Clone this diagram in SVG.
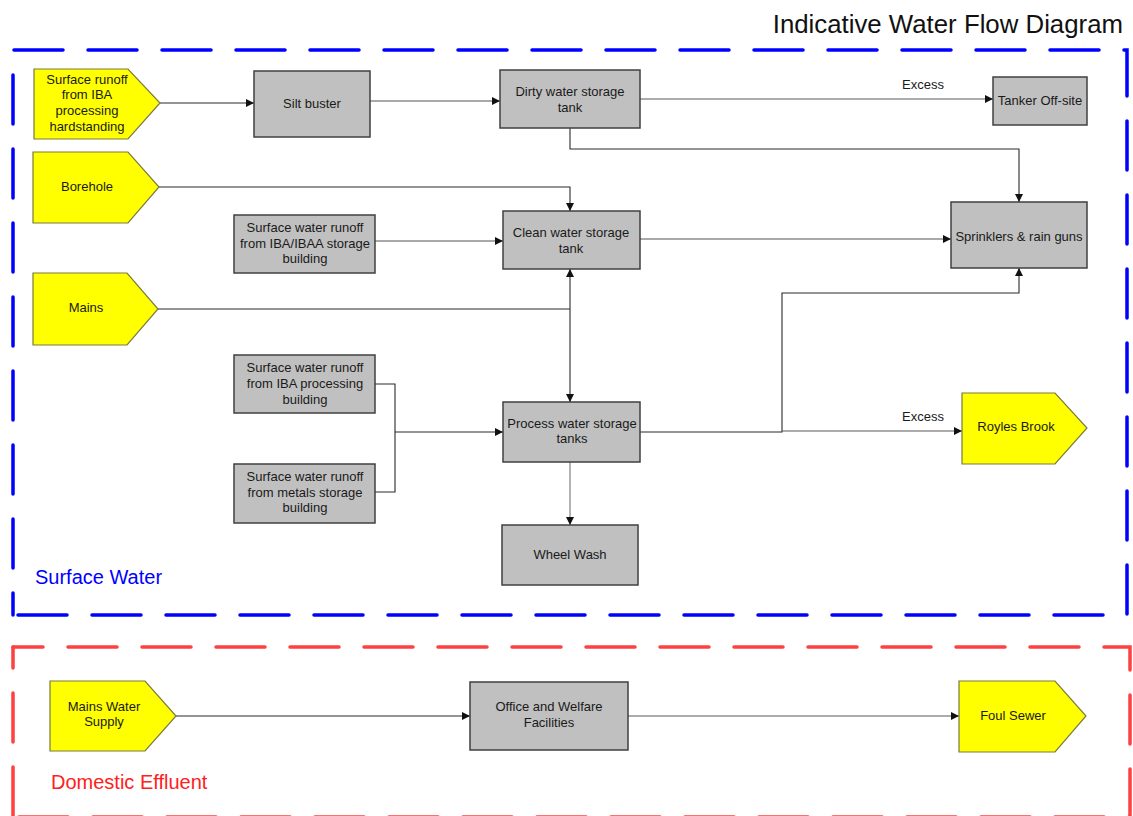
<svg xmlns="http://www.w3.org/2000/svg" width="1133" height="816" viewBox="0 0 1133 816">
<defs>
<marker id="arr" viewBox="0 0 10 10" refX="10" refY="5" markerWidth="9" markerHeight="8" markerUnits="userSpaceOnUse" orient="auto"><path d="M0,0 L10,5 L0,10 Z" fill="#111"/></marker>
<style>
text{font-family:"Liberation Sans",Arial,sans-serif;font-size:13px;fill:#1a1a1a;text-anchor:middle}
.box{fill:#c0c0c0;stroke:#404040;stroke-width:1.5}
.src{fill:#ffff00;stroke:#7a7a40;stroke-width:1.2}
.c{fill:none;stroke:#2a2a2a;stroke-width:1.1}
.g{fill:none;stroke:#8c8c8c;stroke-width:1.3}
.m{fill:none;stroke:#5a5a5a;stroke-width:1.2}
.blue{fill:none;stroke:#0000ff;stroke-width:3.5;stroke-dasharray:49 25;stroke-linecap:round}
.red{fill:none;stroke:#ff4040;stroke-width:3.5;stroke-dasharray:49 25;stroke-linecap:round}
</style>
</defs>
<rect width="1133" height="816" fill="#fff"/>
<text x="1123" y="33" style="font-size:25.8px;text-anchor:end;fill:#111">Indicative Water Flow Diagram</text>

<g id="frame-surface">
<path class="blue" d="M13,50 H1127 V615 H13" stroke-dashoffset="-1"/>
<path class="blue" d="M13,50 V615" stroke-dashoffset="49"/>
<text x="35" y="584" style="font-size:20px;text-anchor:start;fill:#0000ff">Surface Water</text>
</g>
<g id="frame-domestic">
<path class="red" d="M13,647 H1130 V817 H13" stroke-dashoffset="19"/>
<path class="red" d="M13,647 V817" stroke-dashoffset="28"/>
<text x="51" y="789" style="font-size:20px;text-anchor:start;fill:#ff2020">Domestic Effluent</text>
</g>

<g id="connectors">
<path class="c" d="M160,103 H254" marker-end="url(#arr)"/>
<path class="g" d="M370,101 H500" marker-end="url(#arr)"/>
<path class="m" d="M640,99 H993" marker-end="url(#arr)"/>
<text x="923" y="89">Excess</text>
<path class="c" d="M570,128 V149 H1019 V202" marker-end="url(#arr)"/>
<path class="c" d="M159,187 H570 V211" marker-end="url(#arr)"/>
<path class="g" d="M375,241 H503" marker-end="url(#arr)"/>
<path class="g" d="M640,239 H951" marker-end="url(#arr)"/>
<path class="c" d="M158,309 H570"/>
<path class="c" d="M570,309 V269" marker-end="url(#arr)"/>
<path class="c" d="M570,309 V402" marker-end="url(#arr)"/>
<path class="c" d="M375,384 H395 V492 H375"/>
<path class="c" d="M395,432 H503" marker-end="url(#arr)"/>
<path class="c" d="M640,432 H782 V293 H1019 V268" marker-end="url(#arr)"/>
<path class="m" d="M782,431 H962" marker-end="url(#arr)"/>
<text x="923" y="421">Excess</text>
<path class="g" d="M570,462 V525" marker-end="url(#arr)"/>
<path class="c" d="M176,716 H470" marker-end="url(#arr)"/>
<path class="m" d="M628,716 H959" marker-end="url(#arr)"/>
</g>

<g id="n-surface-runoff">
<path class="src" d="M34,69 H128 L160,103 L128,139 H34 Z"/>
<text x="87" y="84">Surface runoff</text>
<text x="87" y="99">from IBA</text>
<text x="87" y="115">processing</text>
<text x="87" y="131">hardstanding</text>
</g>
<g id="n-silt-buster">
<rect class="box" x="254" y="71" width="116" height="66"/>
<text x="312" y="108">Silt buster</text>
</g>
<g id="n-dirty">
<rect class="box" x="500" y="70" width="140" height="58"/>
<text x="570" y="96">Dirty water storage</text>
<text x="570" y="112">tank</text>
</g>
<g id="n-tanker">
<rect class="box" x="993" y="77" width="94" height="48"/>
<text x="1040" y="105">Tanker Off-site</text>
</g>
<g id="n-borehole">
<path class="src" d="M33,152 H128 L159,187 L128,223 H33 Z"/>
<text x="87" y="191">Borehole</text>
</g>
<g id="n-ibaa-storage">
<rect class="box" x="234" y="215" width="141" height="58"/>
<text x="305" y="232">Surface water runoff</text>
<text x="305" y="248">from IBA/IBAA storage</text>
<text x="305" y="263">building</text>
</g>
<g id="n-clean">
<rect class="box" x="503" y="211" width="137" height="58"/>
<text x="571" y="237">Clean water storage</text>
<text x="571" y="253">tank</text>
</g>
<g id="n-sprinklers">
<rect class="box" x="951" y="202" width="136" height="66"/>
<text x="1019" y="241">Sprinklers &amp; rain guns</text>
</g>
<g id="n-mains">
<path class="src" d="M33,273 H127 L158,309 L127,345 H33 Z"/>
<text x="86" y="312">Mains</text>
</g>
<g id="n-iba-processing">
<rect class="box" x="234" y="355" width="141" height="58"/>
<text x="305" y="372">Surface water runoff</text>
<text x="305" y="388">from IBA processing</text>
<text x="305" y="404">building</text>
</g>
<g id="n-metals">
<rect class="box" x="234" y="464" width="141" height="59"/>
<text x="305" y="481">Surface water runoff</text>
<text x="305" y="497">from metals storage</text>
<text x="305" y="512">building</text>
</g>
<g id="n-process">
<rect class="box" x="503" y="402" width="137" height="60"/>
<text x="572" y="428">Process water storage</text>
<text x="572" y="443">tanks</text>
</g>
<g id="n-wheel-wash">
<rect class="box" x="502" y="525" width="136" height="60"/>
<text x="570" y="559">Wheel Wash</text>
</g>
<g id="n-royles">
<path class="src" d="M962,393 H1055 L1087,428 L1055,464 H962 Z"/>
<text x="1016" y="431">Royles Brook</text>
</g>
<g id="n-mains-water-supply">
<path class="src" d="M50,681 H145 L176,716 L145,751 H50 Z"/>
<text x="104" y="711">Mains Water</text>
<text x="104" y="726">Supply</text>
</g>
<g id="n-office">
<rect class="box" x="470" y="682" width="158" height="68"/>
<text x="549" y="711">Office and Welfare</text>
<text x="549" y="727">Facilities</text>
</g>
<g id="n-foul-sewer">
<path class="src" d="M959,681 H1055 L1086,716 L1055,752 H959 Z"/>
<text x="1013" y="720">Foul Sewer</text>
</g>
</svg>
